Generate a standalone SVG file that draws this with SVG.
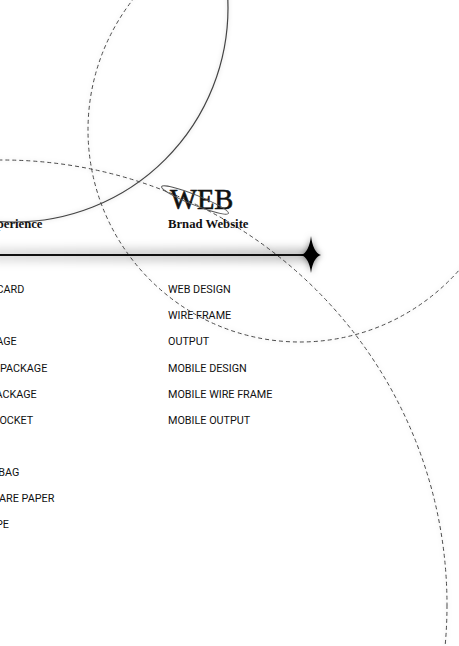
<svg xmlns="http://www.w3.org/2000/svg" width="459" height="646" viewBox="0 0 459 646">
  <defs>
    <filter id="glow" x="-20%" y="-20%" width="140%" height="140%">
      <feGaussianBlur in="SourceAlpha" stdDeviation="2.2" result="b"/>
      <feFlood flood-color="#000" flood-opacity="0.18"/>
      <feComposite in2="b" operator="in" result="s"/>
      <feMerge><feMergeNode in="s"/><feMergeNode in="SourceGraphic"/></feMerge>
    </filter>
    <filter id="starglow" x="-100%" y="-100%" width="300%" height="300%">
      <feGaussianBlur in="SourceAlpha" stdDeviation="3" result="b"/>
      <feFlood flood-color="#000" flood-opacity="0.55"/>
      <feComposite in2="b" operator="in" result="s"/>
      <feMerge><feMergeNode in="s"/><feMergeNode in="SourceGraphic"/></feMerge>
    </filter>
    <filter id="bandblur" x="-10%" y="-200%" width="120%" height="500%">
      <feGaussianBlur stdDeviation="4"/>
    </filter>
    <linearGradient id="bandgrad" x1="0" y1="0" x2="1" y2="0">
      <stop offset="0" stop-color="#000" stop-opacity="0.12"/>
      <stop offset="1" stop-color="#000" stop-opacity="0.22"/>
    </linearGradient>
  </defs>
  <style>
    .dash { fill: none; stroke: #4a4a4a; stroke-width: 1; stroke-dasharray: 4 3; }
    .solid { fill: none; stroke: #444; stroke-width: 1.2; }
    .serif { font-family: "Liberation Serif", "Times New Roman", serif; fill: #111; }
    .item { font-family: Roboto, "Liberation Sans", Arial, sans-serif; font-size: 10.8px; fill: #111; }
  </style>
  <rect width="459" height="646" fill="#fff"/>

  <g id="connectors">
    <circle id="solid-circle" class="solid" cx="14" cy="8" r="214" filter="url(#glow)"/>
    <circle id="dash-circle-right" class="dash" cx="300" cy="130" r="212" filter="url(#glow)"/>
    <circle id="dash-circle-big" class="dash" cx="2" cy="605" r="445" filter="url(#glow)"/>
    <g id="axis">
      <rect x="-10" y="248" width="318" height="14" fill="url(#bandgrad)" filter="url(#bandblur)"/>
      <line x1="0" y1="255" x2="306" y2="255" stroke="#111" stroke-width="2"/>
      <path id="star" d="M311,236 Q313,252.5 321,255 Q313,257.5 311,273 Q309,257.5 301,255 Q309,252.5 311,236 Z" fill="#000" filter="url(#starglow)"/>
    </g>
  </g>

  <g id="web-title">
    <text class="serif" x="170" y="209" font-size="28.5" stroke="#111" stroke-width="0.6">WEB</text>
    <ellipse cx="195" cy="200" rx="36" ry="5" transform="rotate(21.8 195 200)" fill="none" stroke="#555" stroke-width="1"/>
    <text class="serif" x="168" y="228" font-size="12.7" font-weight="bold">Brnad Website</text>
  </g>

  <g id="experience-title">
    <text class="serif" x="42.5" y="228" font-size="12.7" font-weight="bold" text-anchor="end">perience</text>
  </g>

  <g id="list-left">
    <text class="item" x="24.3" y="293.3" text-anchor="end">CARD</text>
    <text class="item" x="16.7" y="345.4" text-anchor="end">AGE</text>
    <text class="item" x="47.3" y="371.5" text-anchor="end">PACKAGE</text>
    <text class="item" x="36.7" y="397.6" text-anchor="end">ACKAGE</text>
    <text class="item" x="33.3" y="423.7" text-anchor="end">OCKET</text>
    <text class="item" x="19.3" y="475.8" text-anchor="end">BAG</text>
    <text class="item" x="54.3" y="501.9" text-anchor="end">ARE PAPER</text>
    <text class="item" x="9" y="528" text-anchor="end">PE</text>
  </g>

  <g id="list-right">
    <text class="item" x="168" y="293.3">WEB DESIGN</text>
    <text class="item" x="168" y="319.4">WIRE FRAME</text>
    <text class="item" x="168" y="345.4">OUTPUT</text>
    <text class="item" x="168" y="371.5">MOBILE DESIGN</text>
    <text class="item" x="168" y="397.6">MOBILE WIRE FRAME</text>
    <text class="item" x="168" y="423.7">MOBILE OUTPUT</text>
  </g>
</svg>
